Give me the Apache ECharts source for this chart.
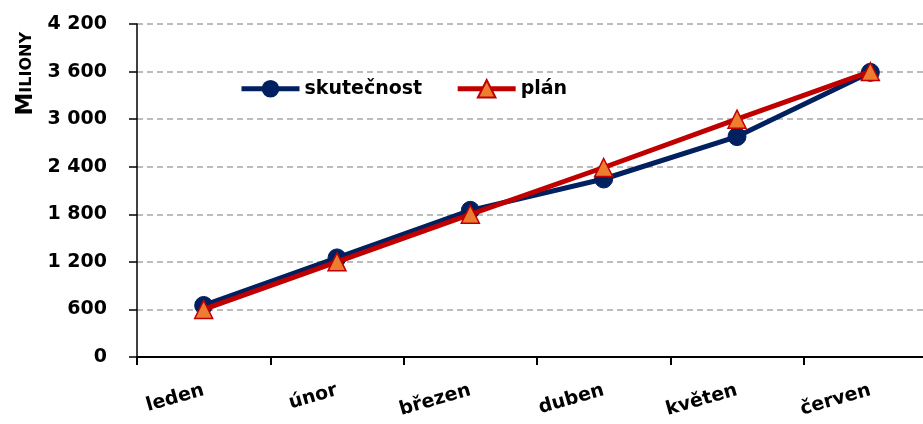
<!DOCTYPE html>
<html>
<head>
<meta charset="utf-8">
<script src="https://cdn.jsdelivr.net/npm/echarts@6/dist/echarts.min.js"></script>
<style>
  html, body { margin: 0; padding: 0; background: #fff; overflow: hidden; }
  #chart { width: 937px; height: 424px; }
</style>
</head>
<body>
<div id="chart"></div>
<script>
// months
const categories = ['leden', 'únor', 'březen', 'duben', 'květen', 'červen']
// values in millions
const skutecnost = [650, 1250, 1850, 2245, 2780, 3590]
const plan = [600, 1200, 1800, 2390, 3000, 3600]
const yTicks = { min: 0, max: 4200, step: 600 }

const font = '"DejaVu Sans", sans-serif'

const dom = echarts.init(document.getElementById('chart'))
const option = {
  animation: false,
  grid: {
    left: 137,
    right: 0,
    top: 24,
    bottom: 67
  },
  legend: {
    left: 234,
    top: 74,
    itemWidth: 58,
    itemHeight: 22,
    itemGap: 33,
    lineStyle: { width: 5 },
    textStyle: {
      fontFamily: font,
      fontWeight: 'bold',
      fontSize: 19,
      color: '#000'
    },
    data: ['skutečnost', 'plán']
  },
  graphic: [{
    type: 'text',
    left: 15,
    top: 32,
    rotation: Math.PI / 2,
    style: {
      text: '{a|M}{b|ILIONY}',
      rich: {
        a: { fontFamily: font, fontWeight: 'bold', fontSize: 23, fill: '#000' },
        b: { fontFamily: font, fontWeight: 'bold', fontSize: 16, fill: '#000' }
      }
    }
  }],
  xAxis: {
    type: 'category',
    data: categories,
    boundaryGap: true,
    axisLine: { lineStyle: { color: '#000', width: 2 } },
    axisTick: { show: true, length: 8, lineStyle: { color: '#000', width: 2 } },
    axisLabel: {
      rotate: 16,
      margin: 33,
      fontFamily: font,
      fontWeight: 'bold',
      fontSize: 19,
      color: '#000'
    }
  },
  yAxis: {
    type: 'value',
    min: yTicks.min,
    max: yTicks.max,
    interval: yTicks.step,
    axisLine: { show: true, lineStyle: { color: '#000', width: 1.5 } },
    axisTick: { show: true, length: 8, lineStyle: { color: '#000', width: 1.5 } },
    axisLabel: {
      margin: 30,
      fontFamily: font,
      fontWeight: 'bold',
      fontSize: 19,
      color: '#000',
      formatter: (v) => String(v).replace(/\B(?=(\d{3})+(?!\d))/g, ' ')
    },
    splitLine: {
      show: true,
      lineStyle: { color: '#a6a6a6', type: [6, 4], width: 1.5 }
    }
  },
  series: [
    {
      name: 'skutečnost',
      type: 'line',
      data: skutecnost,
      symbol: 'circle',
      symbolSize: 18,
      lineStyle: { color: '#002060', width: 5 },
      itemStyle: { color: '#002060', borderColor: '#002060' },
      z: 2
    },
    {
      name: 'plán',
      type: 'line',
      data: plan,
      symbol: 'triangle',
      symbolSize: 18,
      lineStyle: { color: '#c00000', width: 5 },
      itemStyle: { color: '#ed7d31', borderColor: '#c00000', borderWidth: 1.5 },
      z: 3
    }
  ]
}
dom.setOption(option)
</script>
</body>
</html>
